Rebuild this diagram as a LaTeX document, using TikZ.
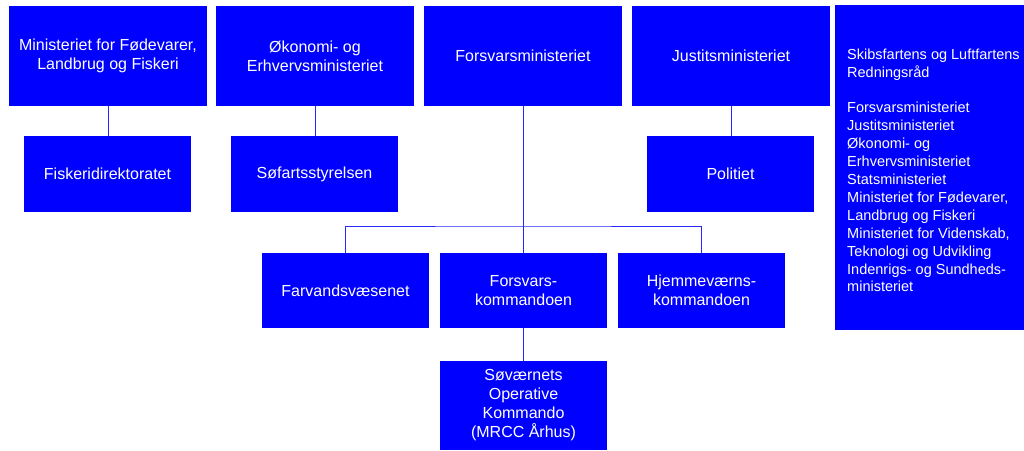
\documentclass[tikz,border=0pt]{standalone}
\usepackage{fontspec}
\setmainfont{Liberation Sans}
\begin{document}
\begin{tikzpicture}[x=1pt,y=-1pt,
  box/.style={fill=blue, draw=none, inner sep=0pt, text=white, align=center,
    font=\fontsize{16}{19}\selectfont},
  topbox/.style={box, minimum width=198pt, minimum height=100pt},
  subbox/.style={box, minimum width=167pt, minimum height=76pt},
  link/.style={draw=blue!85!white, line width=1pt}]
\useasboundingbox (0,0) rectangle (1024,450);
% top row
\node[topbox] (fvm) at (108,56) {Ministeriet for Fødevarer,\\Landbrug og Fiskeri};
\node[topbox] (oem) at (315,56) {Økonomi- og\\Erhvervsministeriet};
\node[topbox] (fm)  at (523,56) {Forsvarsministeriet};
\node[topbox] (jm)  at (731,56) {Justitsministeriet};
% right panel
\node[fill=blue, inner sep=0pt, minimum width=189pt, minimum height=325pt] (slr) at (929.5,167.5) {};
\node[anchor=north west, inner sep=0pt, text=white, align=left,
  font=\fontsize{14.5}{17.9}\selectfont] (slrtxt) at (847,48.5)
  {Skibsfartens og Luftfartens\\Redningsråd\\[17.9pt]Forsvarsministeriet\\Justitsministeriet\\Økonomi- og\\Erhvervsministeriet\\Statsministeriet\\Ministeriet for Fødevarer,\\Landbrug og Fiskeri\\Ministeriet for Videnskab,\\Teknologi og Udvikling\\Indenrigs- og Sundheds-\\ministeriet};
% second row
\node[subbox] (fisk) at (107.5,174) {Fiskeridirektoratet};
\node[subbox] (sfs)  at (314.5,174) {Søfartsstyrelsen};
\node[subbox] (pol)  at (730.5,174) {Politiet};
% third row
\node[subbox, minimum height=75pt] (farv) at (345.5,290.5) {Farvandsvæsenet};
\node[subbox, minimum height=75pt] (fk)   at (523.5,290.5) {Forsvars-\\kommandoen};
\node[subbox, minimum height=75pt] (hjem) at (701.5,290.5) {Hjemmeværns-\\kommandoen};
% fourth row
\node[subbox, minimum height=89pt] (sok) at (523.5,405.5) {Søværnets\\Operative\\Kommando\\(MRCC Århus)};
% connectors
\coordinate (bus) at (523,226);
\draw[link] (fvm.south) -- (fvm.south |- fisk.north);
\draw[link] (oem.south) -- (oem.south |- sfs.north);
\draw[link] (jm.south) -- (jm.south |- pol.north);
\draw[link] (fm.south) -- (fm.south |- fk.north);
\draw[link] (farv.north) |- (bus) -| (hjem.north);
\draw[link] (fk.south) -- (fk.south |- sok.north);
\end{tikzpicture}
\end{document}
